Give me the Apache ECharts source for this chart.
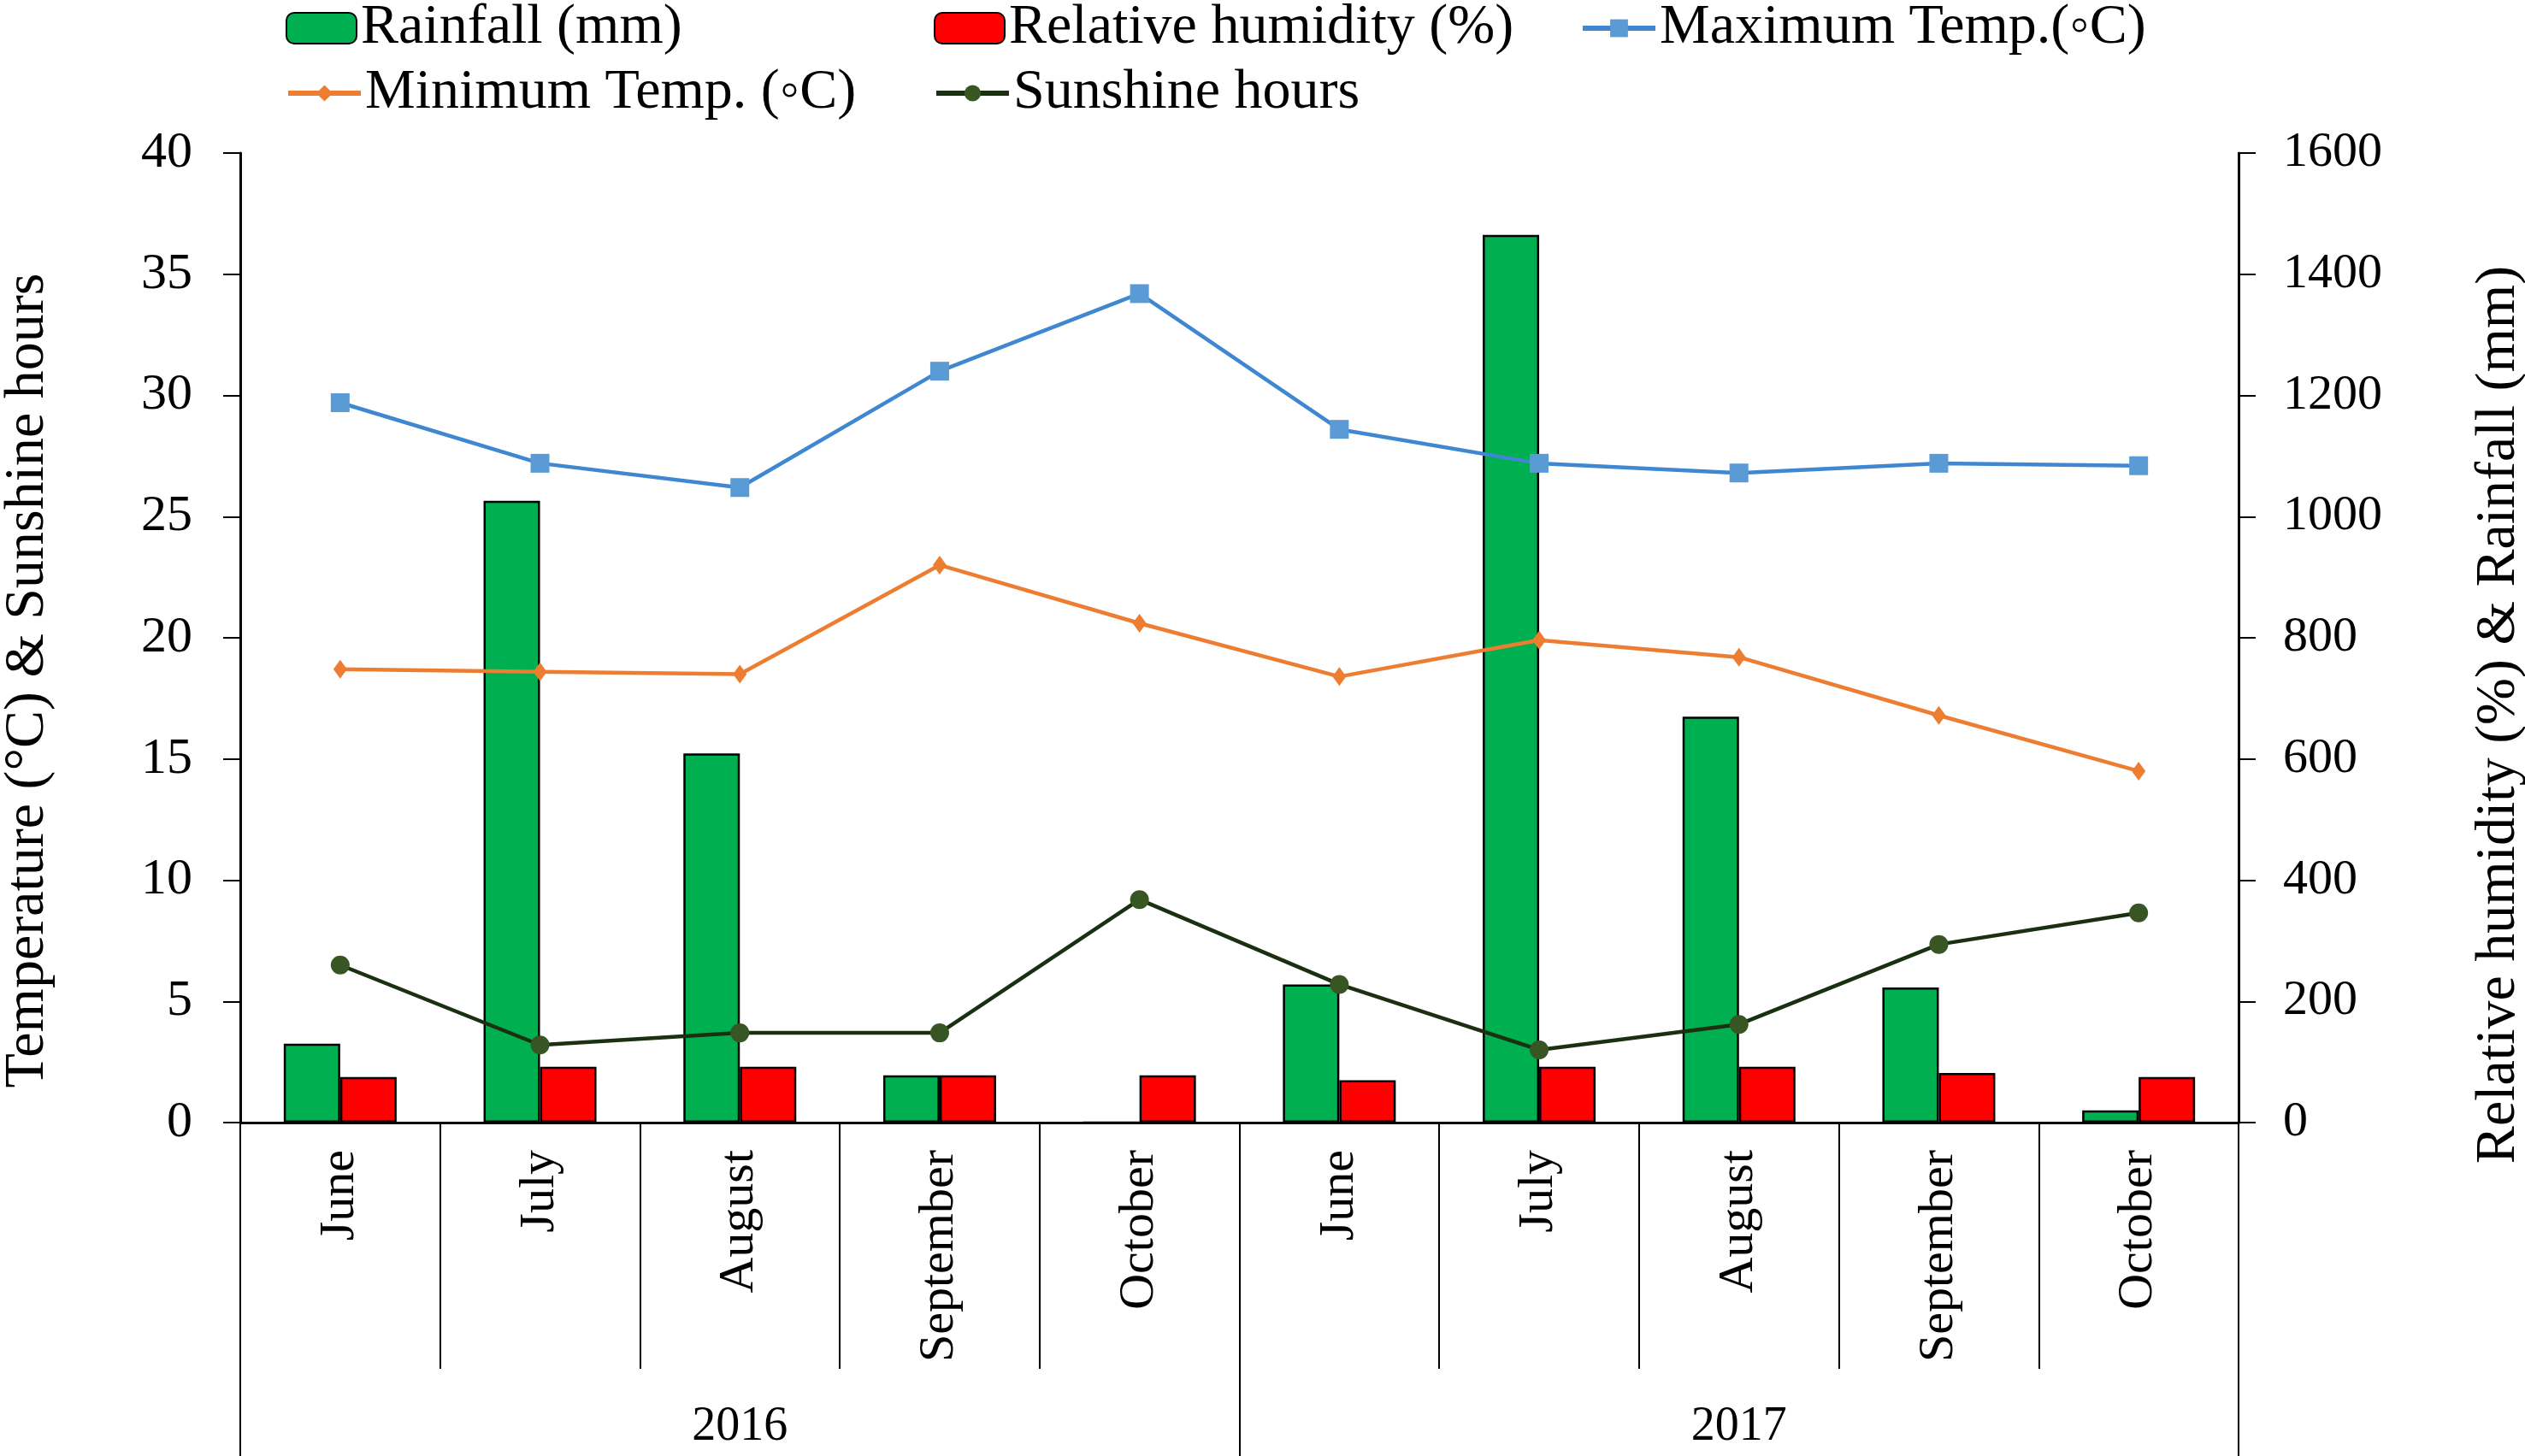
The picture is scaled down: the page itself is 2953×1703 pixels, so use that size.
<!DOCTYPE html>
<html>
<head>
<meta charset="utf-8">
<script src="https://cdn.jsdelivr.net/npm/echarts@6/dist/echarts.min.js"></script>
<style>
  html, body { margin: 0; padding: 0; background: #fff; }
  #chart { width: 2953px; height: 1703px; }
</style>
</head>
<body>
<div id="chart"></div>
<script>
// values
var months = ['June', 'July', 'August', 'September', 'October', 'June', 'July', 'August', 'September', 'October'];
var years = ['2016', '2017'];
var rainfall = [130, 1026, 609, 78, 0, 228, 1465, 670, 223, 20];
var humidity = [75, 92, 92, 78, 78, 70, 92, 92, 82, 75];
var maxTemp = [29.7, 27.2, 26.2, 31.0, 34.2, 28.6, 27.2, 26.8, 27.2, 27.1];
var minTemp = [18.7, 18.6, 18.5, 23.0, 20.6, 18.4, 19.9, 19.2, 16.8, 14.5];
var sunshine = [6.5, 3.2, 3.7, 3.7, 9.2, 5.7, 3.0, 4.05, 7.35, 8.65];

var FONT = 'Liberation Serif';
var dom = document.getElementById('chart');
var myChart = echarts.init(dom);

function legendItem(name, left, top, iw, ih) {
  return {
    data: [name],
    left: left,
    top: top,
    padding: 0,
    itemWidth: iw,
    itemHeight: ih,
    lineStyle: { width: 6 },
    textStyle: { fontFamily: FONT, fontSize: 66, color: '#000' }
  };
}

var option = {
  animation: false,
  textStyle: { fontFamily: FONT },
  legend: [
    legendItem('Rainfall (mm)', 334, 0, 82, 36),
    legendItem('Relative humidity (%)', 1092, 0, 82, 36),
    legendItem('Maximum Temp.(\u25e6C)', 1848, 0, 85, 26),
    legendItem('Minimum Temp. (\u25e6C)', 334, 76, 85, 24),
    legendItem('Sunshine hours', 1092, 76, 85, 24)
  ],
  grid: { left: 281, right: 335, top: 179, bottom: 390, containLabel: false, outerBoundsMode: 'none' },
  xAxis: [
    {
      type: 'category',
      data: months,
      position: 'bottom',
      axisLine: { show: true, onZero: false, lineStyle: { color: '#000', width: 3 } },
      axisTick: { show: true, interval: 0, length: 288, lineStyle: { color: '#000', width: 2 } },
      axisLabel: { interval: 0, rotate: 90, margin: 32, fontFamily: FONT, fontSize: 58, color: '#000' }
    },
    {
      type: 'category',
      data: years,
      position: 'bottom',
      axisLine: { show: false },
      axisTick: { show: true, interval: 0, length: 400, lineStyle: { color: '#000', width: 2 } },
      axisLabel: { interval: 0, margin: 328, fontFamily: FONT, fontSize: 56, color: '#000' }
    }
  ],
  yAxis: [
    {
      type: 'value',
      min: 0, max: 40, interval: 5,
      position: 'left',
      name: 'Temperature (\u00b0C) & Sunshine hours',
      nameLocation: 'middle',
      nameGap: 215,
      nameTextStyle: { fontFamily: FONT, fontSize: 66, color: '#000', padding: [0, 100, 0, 0] },
      axisLine: { show: true, lineStyle: { color: '#000', width: 3 } },
      axisTick: { show: true, length: 20, lineStyle: { color: '#000', width: 2 } },
      axisLabel: { margin: 56, fontFamily: FONT, fontSize: 60, color: '#000' },
      splitLine: { show: false }
    },
    {
      type: 'value',
      min: 0, max: 1600, interval: 200,
      position: 'right',
      name: 'Relative humidity (%) & Rainfall (mm)',
      nameLocation: 'middle',
      nameGap: 272,
      nameRotate: 90,
      nameTextStyle: { fontFamily: FONT, fontSize: 66, color: '#000', padding: [0, 180, 0, 0] },
      axisLine: { show: true, lineStyle: { color: '#000', width: 3 } },
      axisTick: { show: true, length: 20, lineStyle: { color: '#000', width: 2 } },
      axisLabel: {
        margin: 52, fontFamily: FONT, fontSize: 58, color: '#000',
        formatter: function (v) { return String(v); }
      },
      splitLine: { show: false }
    }
  ],
  series: [
    {
      name: 'Rainfall (mm)',
      type: 'bar',
      xAxisIndex: 0,
      yAxisIndex: 1,
      data: rainfall,
      barWidth: 66,
      barGap: '0%',
      itemStyle: { color: '#00B050', borderColor: '#000', borderWidth: 2.5 }
    },
    {
      name: 'Relative humidity (%)',
      type: 'bar',
      xAxisIndex: 0,
      yAxisIndex: 1,
      data: humidity,
      barWidth: 66,
      barGap: '0%',
      itemStyle: { color: '#FF0000', borderColor: '#000', borderWidth: 2.5 }
    },
    {
      name: 'Maximum Temp.(\u25e6C)',
      type: 'line',
      yAxisIndex: 0,
      data: maxTemp,
      symbol: 'rect',
      symbolSize: 22,
      lineStyle: { color: '#3F87D0', width: 4.5 },
      itemStyle: { color: '#5B9BD5' },
      z: 5
    },
    {
      name: 'Minimum Temp. (\u25e6C)',
      type: 'line',
      yAxisIndex: 0,
      data: minTemp,
      symbol: 'diamond',
      symbolSize: [16, 22],
      lineStyle: { color: '#ED7D31', width: 4.5 },
      itemStyle: { color: '#ED7D31' },
      z: 5
    },
    {
      name: 'Sunshine hours',
      type: 'line',
      yAxisIndex: 0,
      data: sunshine,
      symbol: 'circle',
      symbolSize: 22,
      lineStyle: { color: '#1A3010', width: 4.5 },
      itemStyle: { color: '#375623' },
      z: 5
    }
  ]
};

myChart.setOption(option);
window.addEventListener('resize', myChart.resize);
</script>
</body>
</html>
